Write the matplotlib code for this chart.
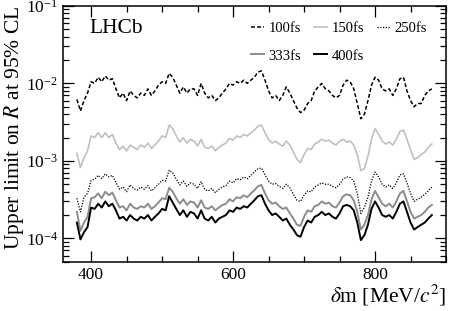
import matplotlib as mpl
mpl.use('Agg')
import matplotlib.pyplot as plt
from matplotlib.ticker import MultipleLocator, LogLocator, NullFormatter
import numpy as np

plt.rcParams['font.family'] = ['Liberation Serif', 'DejaVu Serif']
plt.rcParams['mathtext.fontset'] = 'stix'

########################################
# data (5 MeV steps)

dm = np.arange(380, 881, 5)

# 100fs, units of 1e-2
lim100 = [0.62, 0.44, 0.6, 0.75, 1.05, 1.0, 1.2, 1.05, 1.25, 1.1,
          1.15, 0.85, 0.65, 0.75, 0.6, 0.8, 0.7, 0.65, 0.75, 0.7,
          0.85, 0.7, 0.8, 0.95, 1.05, 1.0, 1.35, 1.2, 0.95, 0.75,
          0.9, 0.75, 0.85, 0.85, 0.7, 1.0, 0.75, 0.65, 0.7, 0.6,
          0.65, 0.75, 0.85, 1.0, 0.95, 1.05, 1.0, 1.1, 1.0, 1.1,
          1.2, 1.4, 1.45, 1.1, 0.8, 0.65, 0.7, 0.6, 0.7, 0.9,
          0.75, 0.6, 0.48, 0.42, 0.45, 0.55, 0.6, 0.8, 0.9, 1.0,
          0.85, 0.8, 0.7, 0.65, 0.7, 0.95, 1.1, 1.05, 0.85, 0.55,
          0.35, 0.4, 0.6, 0.95, 1.2, 1.1, 0.85, 0.8, 0.85, 0.7,
          0.85, 1.15, 1.2, 0.8, 0.6, 0.5, 0.55, 0.55, 0.7, 0.8,
          0.85]

# 150fs, units of 1e-3
lim150 = [1.25, 0.82, 1.1, 1.35, 2.1, 2.0, 2.3, 2.0, 2.3, 2.0,
          2.2, 1.7, 1.4, 1.55, 1.35, 1.6, 1.5, 1.4, 1.6, 1.5,
          1.7, 1.45, 1.6, 1.8, 2.1, 2.0, 2.9, 2.6, 2.1, 1.75,
          2.0, 1.7, 1.9, 1.8, 1.55, 1.9, 1.5, 1.45, 1.55, 1.35,
          1.5, 1.6, 1.7, 1.95, 1.85, 2.1, 2.0, 2.2, 2.1, 2.3,
          2.5, 2.8, 2.9, 2.3, 1.9, 1.7, 1.8, 1.65, 1.55, 1.8,
          1.6, 1.3, 1.05, 0.95, 1.2, 1.45, 1.4, 1.65, 1.75, 1.9,
          1.8, 1.85, 1.7, 1.6, 1.8, 1.9, 1.75, 1.8, 1.6, 1.2,
          0.75, 0.8, 1.15, 1.9, 2.6, 2.2, 1.8, 1.65, 1.75, 1.6,
          1.9, 2.4, 2.5, 1.9, 1.4, 1.05, 1.1, 1.2, 1.3, 1.5,
          1.65]

# 250fs, units of 1e-4
lim250 = [3.3, 2.2, 3.4, 3.8, 5.6, 5.8, 6.5, 5.9, 6.8, 6.2,
          6.5, 5.3, 4.3, 4.6, 4.0, 4.9, 4.4, 4.2, 4.6, 4.3,
          4.8, 4.1, 4.5, 5.0, 5.6, 5.5, 7.6, 7.0, 5.8, 4.9,
          5.5, 4.7, 5.2, 5.0, 4.4, 5.4, 4.3, 4.1, 4.4, 3.9,
          4.3, 4.6, 4.8, 5.5, 5.2, 5.9, 5.7, 6.2, 5.9, 6.5,
          7.2, 7.9, 8.1, 6.6, 5.5, 5.0, 5.1, 4.7, 4.4, 5.0,
          4.5, 3.7, 3.1, 3.0, 3.6, 4.1, 4.0, 4.6, 4.9, 5.2,
          5.0, 5.0, 4.7, 4.5, 5.0, 5.8, 6.2, 6.1, 5.5, 3.8,
          2.1, 2.5, 3.4, 5.5, 7.2, 6.2, 5.0, 4.6, 4.9, 4.4,
          5.2, 6.6, 6.8, 5.2, 3.8, 3.0, 3.2, 3.4, 3.7, 4.1,
          4.6]

# 333fs, units of 1e-4
lim333 = [2.2, 1.25, 1.6, 1.9, 3.3, 3.4, 3.8, 3.3, 4.0, 3.6,
          3.9, 3.1, 2.5, 2.6, 2.3, 2.8, 2.5, 2.4, 2.6, 2.5,
          2.8, 2.4, 2.6, 2.9, 3.3, 3.2, 4.5, 4.0, 3.3, 2.8,
          3.2, 2.7, 3.0, 2.9, 2.5, 3.1, 2.5, 2.4, 2.6, 2.3,
          2.5, 2.7, 2.8, 3.2, 3.0, 3.4, 3.3, 3.6, 3.4, 3.8,
          4.2, 4.7, 4.9, 3.8, 3.1, 2.8, 2.9, 2.6, 2.4, 2.5,
          2.1, 1.8, 1.5, 1.45, 1.9, 2.3, 2.2, 2.6, 2.7, 3.0,
          2.8, 2.9, 2.6, 2.5, 2.9, 3.5, 3.7, 3.6, 3.1, 2.2,
          1.3, 1.5, 2.0, 3.2, 4.1, 3.4, 2.8, 2.6, 2.8, 2.5,
          3.0, 3.8, 4.1, 3.0, 2.2, 1.8, 1.9, 2.0, 2.2, 2.5,
          2.7]

# 400fs, units of 1e-4
lim400 = [1.6, 0.97, 1.2, 1.4, 2.5, 2.4, 2.8, 2.5, 3.0, 2.6,
          2.8, 2.3, 1.8, 1.9, 1.7, 2.0, 1.8, 1.7, 1.9, 1.8,
          2.0, 1.7, 1.9, 2.1, 2.4, 2.3, 3.5, 2.9, 2.4, 2.0,
          2.3, 1.9, 2.2, 2.1, 1.8, 2.3, 1.8, 1.7, 1.9, 1.6,
          1.8, 1.9, 2.0, 2.3, 2.2, 2.5, 2.4, 2.6, 2.5, 2.8,
          3.1, 3.5, 3.6, 2.8, 2.3, 2.0, 2.1, 1.9, 1.7, 1.8,
          1.5, 1.3, 1.1, 1.05, 1.4, 1.7, 1.6, 1.9, 2.0, 2.2,
          2.0, 2.1, 1.9, 1.8, 2.1, 2.6, 2.7, 2.6, 2.3, 1.6,
          0.95, 1.1, 1.5, 2.4, 3.0, 2.5, 2.0, 1.9, 2.0, 1.8,
          2.2, 2.8, 3.0, 2.2, 1.6, 1.3, 1.4, 1.5, 1.6, 1.8,
          2.0]

########################################
# plot

fig = plt.figure(figsize=(4.51, 3.11), dpi=100)
ax = fig.add_axes([0.139, 0.1585, 0.850, 0.8225])

l100, = ax.plot(dm, np.array(lim100) * 1e-2, color='black', ls=(0, (2.5, 1.5)), lw=1.1, label='100fs')
l150, = ax.plot(dm, np.array(lim150) * 1e-3, color='#c0c0c0', ls='-', lw=1.2, label='150fs')
l250, = ax.plot(dm, np.array(lim250) * 1e-4, color='black', ls=(0, (1, 1.2)), lw=0.9, label='250fs')
l333, = ax.plot(dm, np.array(lim333) * 1e-4, color='#8c8c8c', ls='-', lw=1.4, label='333fs')
l400, = ax.plot(dm, np.array(lim400) * 1e-4, color='black', ls='-', lw=1.4, label='400fs')

ax.set_yscale('log')
ax.set_xlim(360, 900)
ax.set_ylim(5e-5, 1e-1)

ax.xaxis.set_major_locator(MultipleLocator(200))
ax.xaxis.set_minor_locator(MultipleLocator(50))
ax.yaxis.set_minor_locator(LogLocator(base=10, subs=np.arange(2, 10)))
ax.yaxis.set_minor_formatter(NullFormatter())

ax.tick_params(which='both', direction='in', top=True, right=True, labelsize=12.5)
ax.tick_params(which='major', length=8, width=0.9)
ax.tick_params(which='minor', length=4, width=0.9)
for s in ax.spines.values():
    s.set_linewidth(1.1)

ax.set_xlabel(r'$\delta$m [MeV/$c^2$]', fontsize=15.5, loc='right', labelpad=0)
ax.set_ylabel(r'Upper limit on $R$ at 95% CL', fontsize=15.5, loc='top')
ax.yaxis.set_label_coords(-0.095, 1.0)

ax.text(0.07, 0.91, 'LHCb', transform=ax.transAxes, fontsize=15.5, va='center', ha='left')

# column-major fill: keep rows as 100/150/250, 333/400
ax.legend([l100, l333, l150, l400, l250], ['100fs', '333fs', '150fs', '400fs', '250fs'],
          loc='upper right', bbox_to_anchor=(0.985, 0.99), ncol=3, frameon=False, fontsize=10.5,
          handlelength=0.9, handletextpad=0.3, columnspacing=0.9, labelspacing=1.0)

fig.savefig('out.png', dpi=100)
